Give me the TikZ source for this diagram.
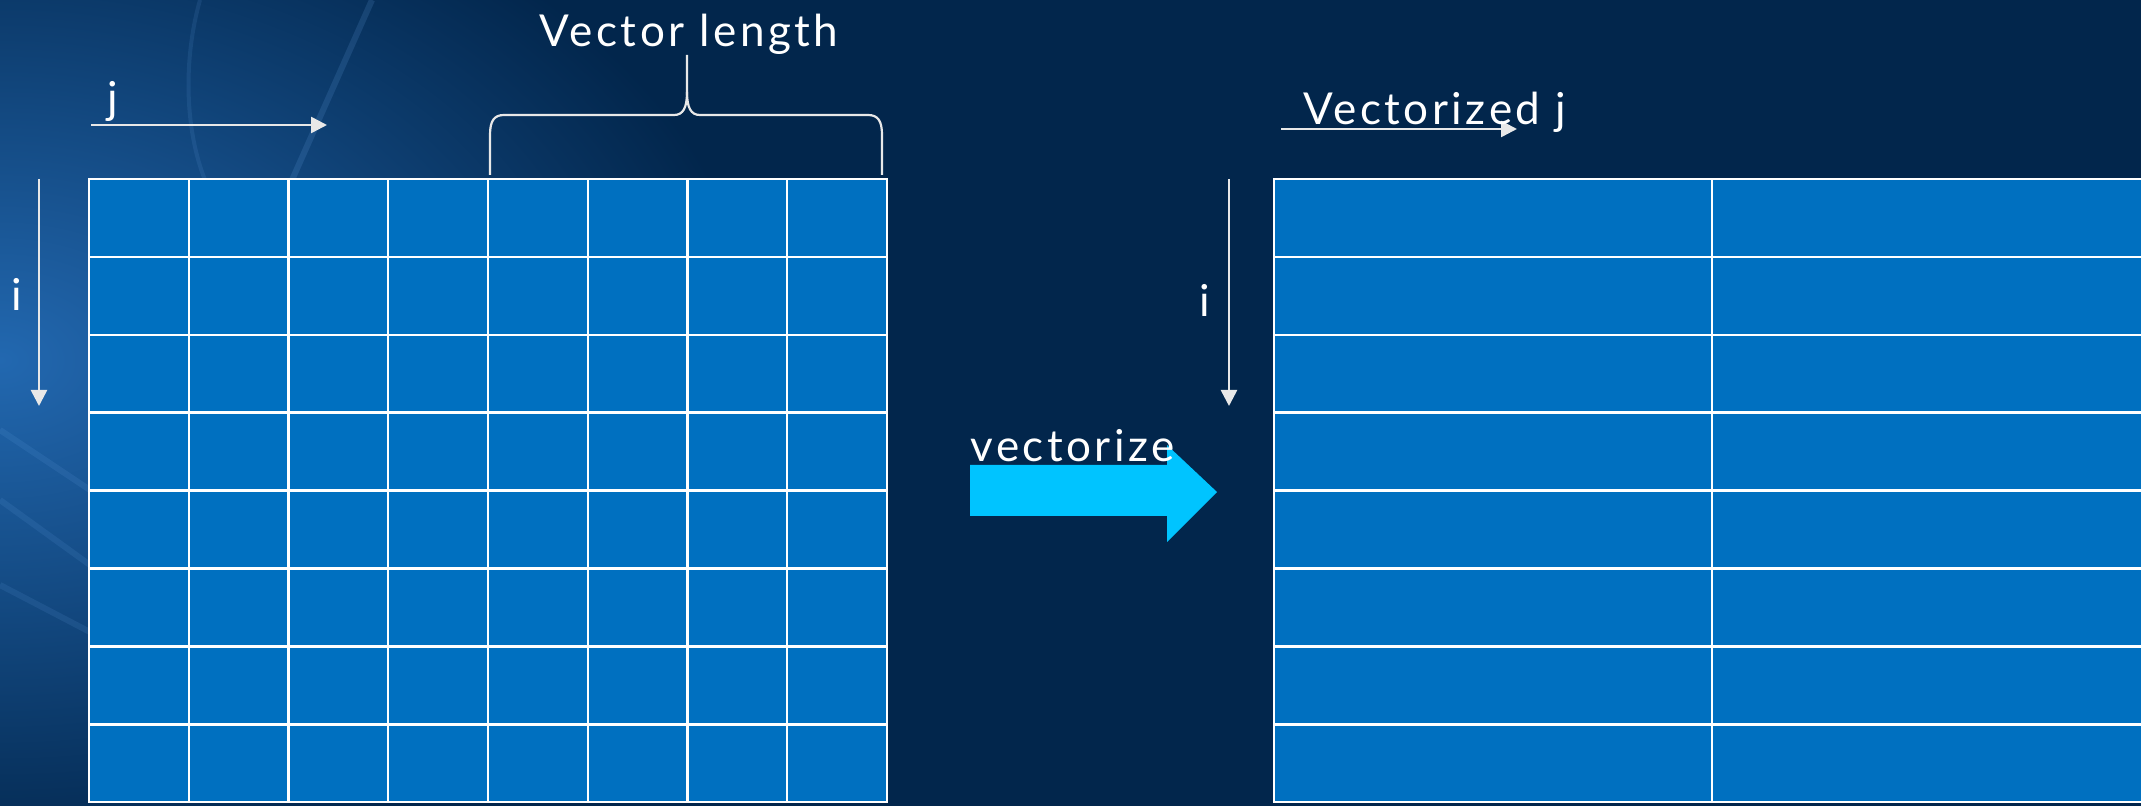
\documentclass[tikz,border=0pt]{standalone}
\usepackage{fontspec}
\setmainfont{Lato}[LetterSpace=8]
\usetikzlibrary{arrows.meta}
\definecolor{navy}{RGB}{2,38,76}
\definecolor{glow}{RGB}{34,104,176}
\definecolor{cellblue}{RGB}{0,112,192}
\definecolor{bigcyan}{RGB}{0,196,255}
\definecolor{pointer}{RGB}{232,232,232}
\definecolor{streakblue}{RGB}{110,170,235}
\tikzstyle{cell} = [rectangle, draw=white, line width=1.2pt, fill=cellblue,
    minimum width=49.875pt, minimum height=38.95pt, inner sep=0pt, outer sep=0pt]
\tikzstyle{wide} = [cell, minimum width=219pt]
\tikzstyle{txt} = [text=white, font=\fontsize{22}{26}\selectfont, inner sep=0pt]
\tikzstyle{line} = [draw=pointer, line width=1.3pt, -{Triangle[length=8pt, width=8pt]}]
\tikzstyle{brace} = [draw=pointer, line width=1.1pt]
\tikzstyle{streak} = [draw=streakblue, line width=3pt, opacity=0.12]

\begin{document}
\begin{tikzpicture}[x=0.5pt, y=-0.5pt]
        \useasboundingbox (0,0) rectangle (2141,806);
        \clip (0,0) rectangle (2141,806);
        % Background
        \fill[navy] (0,0) rectangle (2141,806);
        \shade[inner color=glow, outer color=navy] (0,360) ellipse [x radius=380pt, y radius=260pt];
        \draw[streak, line width=2pt] (200,0) .. controls (183,60) and (185,130) .. (205,180);
        \draw[streak, opacity=0.16] (372,0) -- (292,180);
        \draw[streak] (0,430) -- (90,490);
        \draw[streak] (0,500) -- (90,565);
        \draw[streak] (0,585) -- (90,632);
        % Place cells
        \foreach \r in {1,...,8}
            \foreach \c in {1,...,8}
                \node [cell] (a-\r-\c) at ({89+99.75*(\c-0.5)}, {179+77.9*(\r-0.5)}) {};
        \foreach \r in {1,...,8}
            \foreach \c in {1,2}
                \node [wide] (b-\r-\c) at ({1274+438*(\c-0.5)}, {179+77.9*(\r-0.5)}) {};
        % Label nodes
        \node [txt, anchor=base] (vlen) at (689,47) {Vector length};
        \node [txt, anchor=base] (jlab) at (113,114) {j};
        \node [txt, anchor=base] (ilab) at (17,311) {i};
        \node [txt, anchor=base] (ilab2) at (1205,317) {i};
        % Arrow ends
        \coordinate (j-from) at (91,125);
        \coordinate (j-to) at (327,125);
        \coordinate (i-from) at (39,179);
        \coordinate (i-to) at (39,406);
        \coordinate (i2-from) at (1229,179);
        \coordinate (i2-to) at (1229,406);
        \coordinate (vj-from) at (1281,129);
        \coordinate (vj-to) at (1517,129);
        \coordinate (br-l) at (490,175);
        \coordinate (br-r) at (882,175);
        \coordinate (br-tip) at (687,55);
        % Draw edges
        \path [line] (j-from) -- (j-to);
        \path [line] (i-from) -- (i-to);
        \path [line] (i2-from) -- (i2-to);
        \path [line] (vj-from) -- (vj-to);
        \node [txt, anchor=base west] (vjlab) at (1303,125) {Vectorized j};
        % Brace over the last four columns
        \draw [brace] (br-l) -- (490,135) .. controls (490,121) and (494,115) .. (504,115)
            -- (674,115) .. controls (683,115) and (687,108) .. (687,92) -- (br-tip);
        \draw [brace] (br-r) -- (882,135) .. controls (882,121) and (878,115) .. (868,115)
            -- (700,115) .. controls (691,115) and (687,108) .. (687,92);
        % Big arrow
        \fill [bigcyan] (970,465) -- (1167,465) -- (1167,445) -- (1217,492)
            -- (1167,542) -- (1167,516) -- (970,516) -- cycle;
        \node [txt, anchor=base west] (vtext) at (970,462) {vectorize};
\end{tikzpicture}
\end{document}
